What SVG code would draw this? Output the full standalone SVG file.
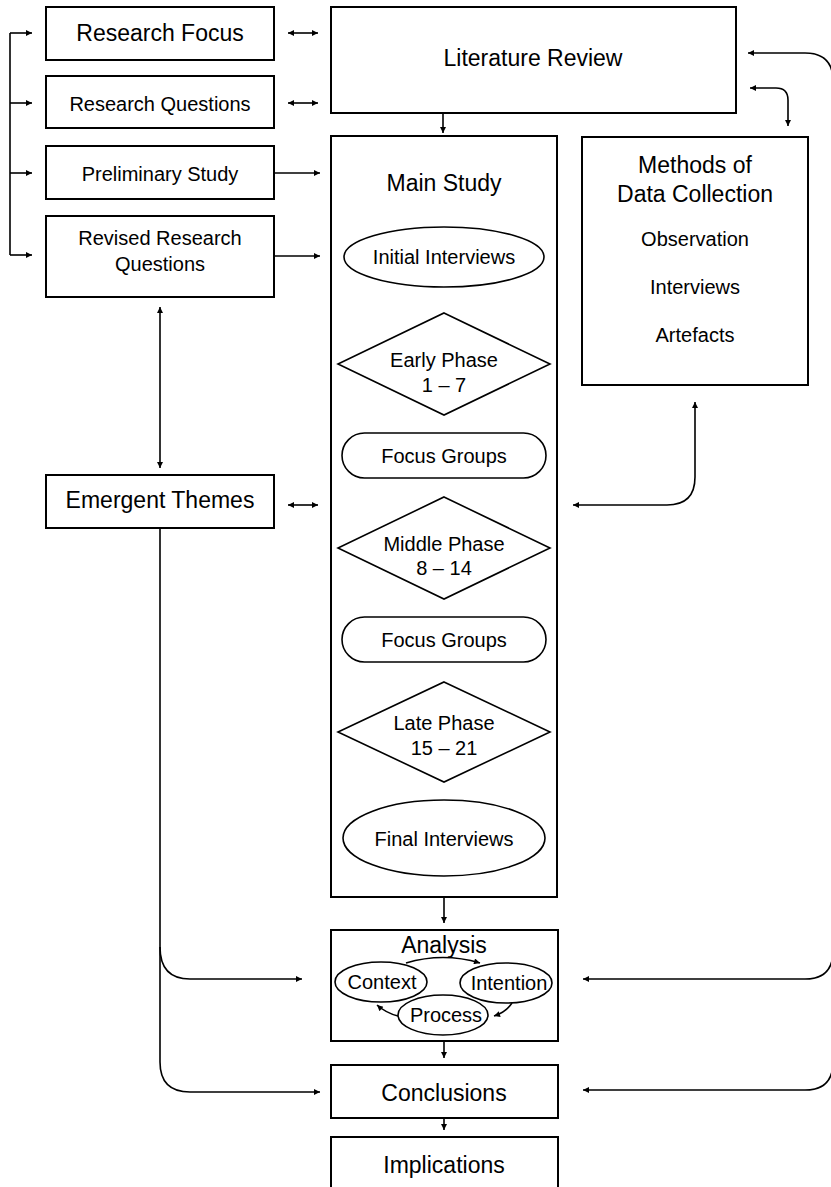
<svg xmlns="http://www.w3.org/2000/svg" width="831" height="1187" viewBox="0 0 831 1187">
<defs>
<marker id="ah" viewBox="0 0 10 10" refX="10" refY="5" markerWidth="9" markerHeight="6" orient="auto-start-reverse" markerUnits="userSpaceOnUse"><path d="M0,0 L10,5 L0,10 z" fill="#000"/></marker>
<style>
.box{fill:#fff;stroke:#000;stroke-width:2}
.shp{fill:#fff;stroke:#000;stroke-width:1.6}
.t{font-family:"Liberation Sans",Arial,Helvetica,sans-serif;fill:#000;text-anchor:middle}
.l{font-size:23px}
.m{font-size:20px}
.c{fill:none;stroke:#000;stroke-width:1.6}
.a{marker-end:url(#ah)}
.b{marker-start:url(#ah);marker-end:url(#ah)}
</style>
</defs>
<rect width="831" height="1187" fill="#fff"/>
<g id="research-focus"><rect class="box" x="46" y="7" width="228" height="53"/><text class="t l" x="160" y="41">Research Focus</text></g>
<g id="research-questions"><rect class="box" x="46" y="76" width="228" height="52"/><text class="t m" x="160" y="111">Research Questions</text></g>
<g id="preliminary-study"><rect class="box" x="46" y="146" width="228" height="53"/><text class="t m" x="160" y="181">Preliminary Study</text></g>
<g id="revised-research-questions"><rect class="box" x="46" y="216" width="228" height="81"/><text class="t m" x="160" y="245">Revised Research</text><text class="t m" x="160" y="271">Questions</text></g>
<g id="emergent-themes"><rect class="box" x="46" y="475" width="228" height="53"/><text class="t l" x="160" y="508">Emergent Themes</text></g>
<g id="literature-review"><rect class="box" x="331" y="7" width="405" height="106"/><text class="t l" x="533" y="66">Literature Review</text></g>
<g id="main-study"><rect class="box" x="331" y="136" width="226" height="761"/><text class="t l" x="444" y="191">Main Study</text></g>
<g id="initial-interviews"><ellipse class="shp" cx="444" cy="257" rx="100" ry="30"/><text class="t m" x="444" y="264">Initial Interviews</text></g>
<g id="early-phase"><polygon class="shp" points="444,313 550,364 444,415 338,364"/><text class="t m" x="444" y="367">Early Phase</text><text class="t m" x="444" y="392">1 – 7</text></g>
<g id="focus-groups-1"><rect class="shp" x="342" y="433" width="204" height="45" rx="22.5"/><text class="t m" x="444" y="463">Focus Groups</text></g>
<g id="middle-phase"><polygon class="shp" points="444,497 550,548 444,599 338,548"/><text class="t m" x="444" y="551">Middle Phase</text><text class="t m" x="444" y="575">8 – 14</text></g>
<g id="focus-groups-2"><rect class="shp" x="342" y="617" width="204" height="45" rx="22.5"/><text class="t m" x="444" y="647">Focus Groups</text></g>
<g id="late-phase"><polygon class="shp" points="444,682 550,732 444,782 338,732"/><text class="t m" x="444" y="730">Late Phase</text><text class="t m" x="444" y="755">15 – 21</text></g>
<g id="final-interviews"><ellipse class="shp" cx="444" cy="838" rx="101" ry="38"/><text class="t m" x="444" y="846">Final Interviews</text></g>
<g id="methods"><rect class="box" x="582" y="137" width="226" height="248"/><text class="t l" x="695" y="173">Methods of</text><text class="t l" x="695" y="202">Data Collection</text><text class="t m" x="695" y="246">Observation</text><text class="t m" x="695" y="294">Interviews</text><text class="t m" x="695" y="342">Artefacts</text></g>
<g id="analysis"><rect class="box" x="331" y="930" width="227" height="111"/><text class="t l" x="444" y="953">Analysis</text></g>
<g id="context"><ellipse class="shp" cx="381" cy="982" rx="46" ry="20"/><text class="t m" x="382" y="989">Context</text></g>
<g id="intention"><ellipse class="shp" cx="506" cy="983" rx="46" ry="20"/><text class="t m" x="509" y="990">Intention</text></g>
<g id="process"><ellipse class="shp" cx="443" cy="1015" rx="45" ry="20"/><text class="t m" x="446" y="1022">Process</text></g>
<g id="conclusions"><rect class="box" x="331" y="1065" width="227" height="53"/><text class="t l" x="444" y="1101">Conclusions</text></g>
<g id="implications"><rect class="box" x="331" y="1137" width="227" height="60"/><text class="t l" x="444" y="1173">Implications</text></g>
<g id="connectors">
<path class="c" d="M10,33 V255"/>
<path class="c a" d="M10,33 H32"/>
<path class="c a" d="M10,103 H32"/>
<path class="c a" d="M10,173 H32"/>
<path class="c a" d="M10,255 H32"/>
<path class="c b" d="M288,33 H318"/>
<path class="c b" d="M288,103 H318"/>
<path class="c b" d="M288,505 H318"/>
<path class="c a" d="M274,173 H320"/>
<path class="c a" d="M274,256 H320"/>
<path class="c a" d="M443,113 V133"/>
<path class="c b" d="M748,53 H805 Q833,53 833,81 V1062 Q833,1090 805,1090 H583"/>
<path class="c a" d="M833,951 Q833,979 805,979 H583"/>
<path class="c b" d="M750,88 H776 Q788,88 788,100 V126"/>
<path class="c b" d="M695,402 V477 Q695,505 667,505 H573"/>
<path class="c b" d="M160,307 V468"/>
<path class="c a" d="M160,528 V1062 Q160,1092 190,1092 H320"/>
<path class="c a" d="M160,947 Q160,979 190,979 H302"/>
<path class="c a" d="M444,897 V923"/>
<path class="c a" d="M444,1041 V1058"/>
<path class="c a" d="M444,1118 V1130"/>
<path class="c a" d="M406,963 Q443,952 480,963"/>
<path class="c a" d="M512,1003 Q506,1012 494,1016"/>
<path class="c a" d="M398,1016 Q386,1013 377,1005"/>
</g>
</svg>
